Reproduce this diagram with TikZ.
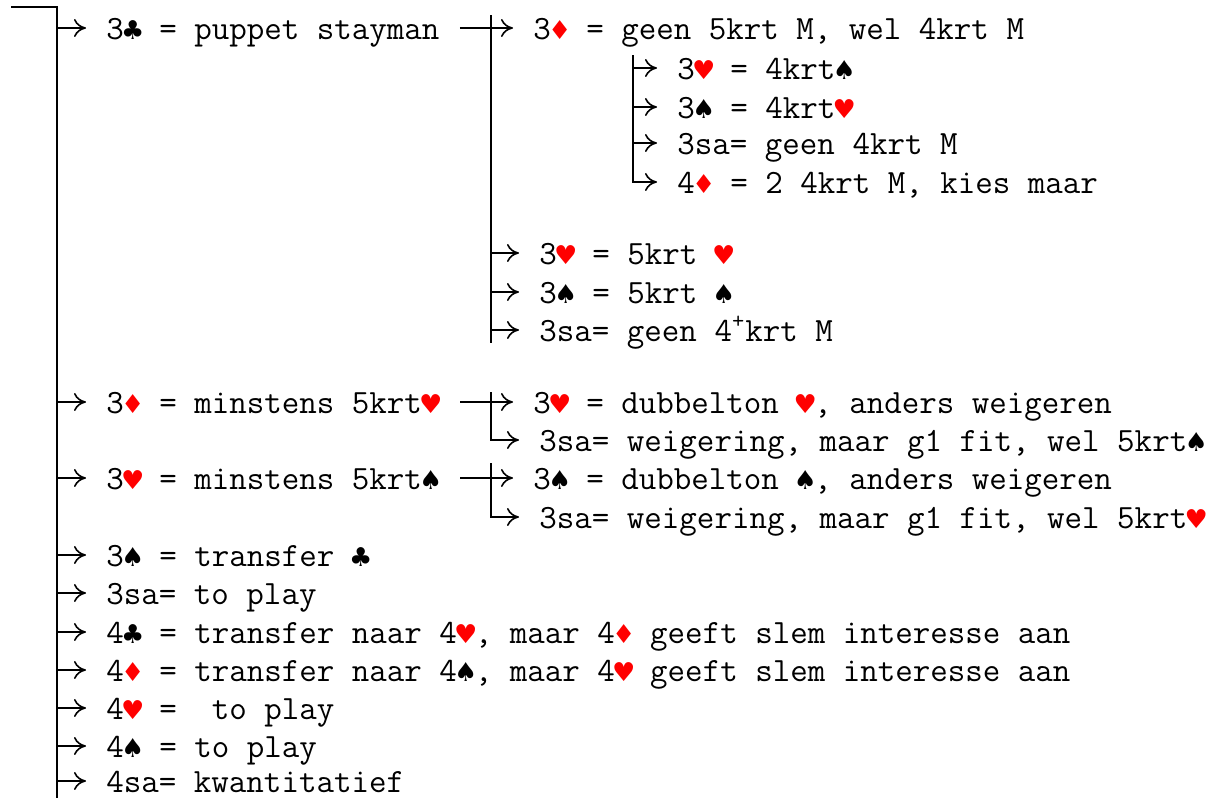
\documentclass[tikz,border=0pt]{standalone}
\usepackage{fontspec}
\newfontfamily\suitfont{DejaVu Sans}
\usetikzlibrary{arrows.meta}
% suit symbols, one character cell wide
\newcommand\suit[2]{\makebox[0.525em][c]{\textcolor{#1}{\suitfont\fontsize{13}{13}\selectfont #2}}}
\newcommand\kKlaver{\suit{black}{♣}}
\newcommand\kRuiten{\suit{red}{♦}}
\newcommand\kHarten{\suit{red}{♥}}
\newcommand\kSchoppen{\suit{black}{♠}}
\tikzset{
    %Define standard arrow tip
    >={Computer Modern Rightarrow[length=6pt,width=9pt]},
    %Define style for the bids
    bod/.style={
           anchor=west,
           inner xsep=10pt,
           inner ysep=0pt,
           text height=12pt,
           text depth=1pt,
           font={\ttfamily\fontsize{17}{20}\selectfont}},
    % Define arrow style
    pil/.style={
           ->,
           line width=0.8pt},
    stam/.style={
           line width=1pt}
}
\begin{document}
\begin{tikzpicture}[x=0.5pt, y=-0.5pt]
    \useasboundingbox (0,0) rectangle (1217,798);
    % MAIN LINE
    \coordinate (hoek) at (11,7);
    \coordinate (stam) at (57,7);
    \coordinate (stamEind) at (57,798);
    \draw[stam] (hoek) -- (stam) -- (stamEind);

    \node[bod] at (86,28) (stayman) {3\kKlaver{} = puppet stayman};
    \node[bod] at (86,402) (minHart) {3\kRuiten{} = minstens 5krt\kHarten};
    \node[bod] at (86,478) (minSchop) {3\kHarten{} = minstens 5krt\kSchoppen};
    \node[bod] at (86,555) (trKlaver) {3\kSchoppen{} = transfer \kKlaver};
    \node[bod] at (86,593) (speel3sa) {3sa= to play};
    \node[bod] at (86,632) (trHart) {4\kKlaver{} = transfer naar 4\kHarten, maar 4\kRuiten{} geeft slem interesse aan};
    \node[bod] at (86,670) (trSchop) {4\kRuiten{} = transfer naar 4\kSchoppen, maar 4\kHarten{} geeft slem interesse aan};
    \node[bod] at (86,708) (speel4h) {4\kHarten{} = \ to play};
    \node[bod] at (86,746) (speel4s) {4\kSchoppen{} = to play};
    \node[bod] at (86,781) (kwant) {4sa= kwantitatief};
    \foreach \n in {stayman,minHart,minSchop,trKlaver,speel3sa,trHart,trSchop,speel4h,speel4s,kwant}
        \draw[pil] (stam |- \n.west) -- (\n.west);

    % PUPPET STAYMAN
    \coordinate (tak) at (491,15);
    \coordinate (takEind) at (491,343);
    \draw[stam] (tak) -- (takEind);
    \node[bod] at (513,28) (geenVijf) {3\kRuiten{} = geen 5krt M, wel 4krt M};
    \node[bod] at (519,253) (vijfHart) {3\kHarten{} = 5krt \kHarten};
    \node[bod] at (519,292) (vijfSchop) {3\kSchoppen{} = 5krt \kSchoppen};
    \node[bod] at (519,330) (geenVier) {3sa= geen 4\textsuperscript{+}krt M};
    \draw[pil] (stayman.east) -- (geenVijf.west);
    \foreach \n in {vijfHart,vijfSchop,geenVier}
        \draw[pil] (tak |- \n.west) -- (\n.west);

    \coordinate (tak3) at (633,55);
    \node[bod] at (657,68) (vierSchop) {3\kHarten{} = 4krt\kSchoppen};
    \node[bod] at (657,107) (vierHart) {3\kSchoppen{} = 4krt\kHarten};
    \node[bod] at (657,143) (geenVierM) {3sa= geen 4krt M};
    \node[bod] at (657,182) (tweeVier) {4\kRuiten{} = 2 4krt M, kies maar};
    \draw[pil] (tak3) |- (tweeVier.west);
    \foreach \n in {vierSchop,vierHart,geenVierM}
        \draw[pil] (tak3 |- \n.west) -- (\n.west);

    % MINSTENS 5KRT
    \coordinate (takH) at (491,392);
    \node[bod] at (513,402) (dubHart) {3\kHarten{} = dubbelton \kHarten, anders weigeren};
    \node[bod] at (519,440) (weigerA) {3sa= weigering, maar g1 fit, wel 5krt\kSchoppen};
    \draw[pil] (minHart.east) -- (dubHart.west);
    \draw[pil] (takH) |- (weigerA.west);

    \coordinate (takS) at (491,463);
    \node[bod] at (513,478) (dubSchop) {3\kSchoppen{} = dubbelton \kSchoppen, anders weigeren};
    \node[bod] at (519,517) (weigerB) {3sa= weigering, maar g1 fit, wel 5krt\kHarten};
    \draw[pil] (minSchop.east) -- (dubSchop.west);
    \draw[pil] (takS) |- (weigerB.west);
\end{tikzpicture}
\end{document}
